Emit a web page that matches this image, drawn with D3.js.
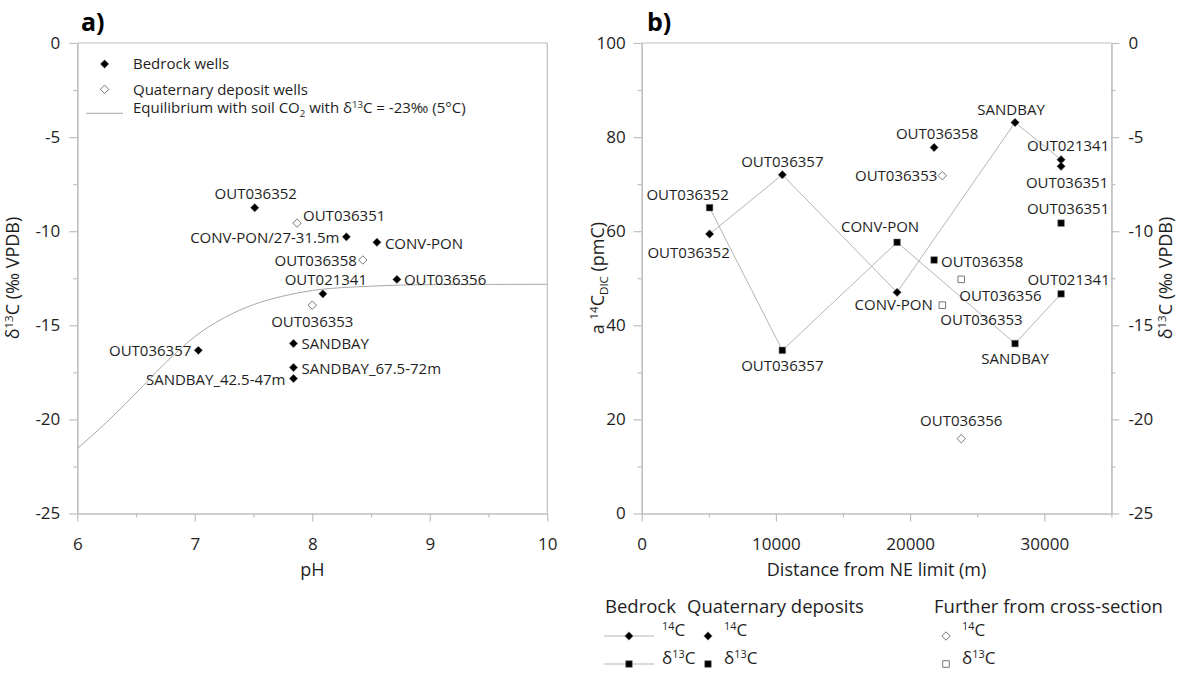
<!DOCTYPE html>
<html>
<head>
<meta charset="utf-8">
<script src="https://cdn.jsdelivr.net/npm/d3@7"></script>
<style>
  body { margin: 0; background: #fff; }
  svg { display: block; }
</style>
</head>
<body>
<svg id="chart" width="1190" height="677"></svg>
<script>
// ---------------- Panel a: pH vs δ13C of DIC ----------------
const wellsA = ["OUT036352", "OUT036351", "CONV-PON/27-31.5m", "CONV-PON", "OUT036358", "OUT036356",
                "OUT021341", "OUT036353", "OUT036357", "SANDBAY", "SANDBAY_67.5-72m", "SANDBAY_42.5-47m"];
const phA    = [7.51, 7.87, 8.29, 8.55, 8.43, 8.72, 8.09, 8.00, 7.03, 7.84, 7.84, 7.84];
const d13cA  = [-8.75, -9.57, -10.30, -10.59, -11.53, -12.56, -13.33, -13.93, -16.33, -15.97, -17.24, -17.83];
const kindA  = ["bedrock", "quaternary", "bedrock", "bedrock", "quaternary", "bedrock",
                "bedrock", "quaternary", "bedrock", "bedrock", "bedrock", "bedrock"];

// equilibrium curve with soil CO2 (δ13C = -23‰, 5°C)
const eqPH   = [6.0, 6.25, 6.5, 6.75, 7.0, 7.25, 7.5, 7.75, 8.0, 8.5, 9.0, 10.0];
const eqD13C = [-21.55, -20.15, -18.6, -17.0, -15.6, -14.6, -13.9, -13.45, -13.15, -12.92, -12.84, -12.82];

const phTicks   = [6, 7, 8, 9, 10];
const d13cTicks = [-25, -20, -15, -10, -5, 0];

// ---------------- Panel b: 14C and δ13C along the cross-section ----------------
const bedrockWells = ["OUT036352", "OUT036357", "CONV-PON", "SANDBAY", "OUT021341"];
const bedrockDist  = [5060, 10480, 19030, 27820, 31250];
const bedrockC14   = [59.4, 72.0, 47.0, 83.1, 75.2];
const bedrockD13C  = [-8.75, -16.33, -10.59, -15.97, -13.33];

const quatWells = ["OUT036358", "OUT036351"];
const quatDist  = [21790, 31250];
const quatC14   = [77.8, 73.8];
const quatD13C  = [-11.53, -9.57];

const furtherWells = ["OUT036353", "OUT036356"];
const furtherDist  = [22400, 23810];
const furtherC14   = [71.8, 15.9];
const furtherD13C  = [-13.93, -12.56];

const distTicks = [0, 10000, 20000, 30000];
const c14Ticks  = [0, 20, 40, 60, 80, 100];

// ---------------- layout ----------------
const FONT = "'Open Sans', 'Noto Sans', sans-serif";
const TXT = "#1e1e1e";
const AXC = "#bfbfbf";
const A = { l: 77.3, r: 547.3, t: 43, b: 513.5 };
const B = { l: 641.7, r: 1111.4, t: 43, b: 513.5 };

const svg = d3.select("#chart").attr("font-family", FONT);

const xA = d3.scaleLinear().domain([6, 10]).range([A.l, A.r]);
const yA = d3.scaleLinear().domain([-25, 0]).range([A.b, A.t]);
const xB = d3.scaleLinear().domain([0, 35000]).range([B.l, B.r]);
const yB = d3.scaleLinear().domain([0, 100]).range([B.b, B.t]);
const yB2 = d3.scaleLinear().domain([-25, 0]).range([B.b, B.t]);

// text with superscript / subscript runs
function rich(sel, parts, size) {
  let cur = 0;
  parts.forEach(p => {
    const target = p.sup ? -0.36 * size : p.sub ? 0.22 * size : 0;
    sel.append("tspan")
      .attr("dy", target - cur)
      .attr("font-size", (p.sup || p.sub) ? size * 0.64 : size)
      .text(p.t);
    cur = target;
  });
  return sel;
}

function styleAxis(g, showText) {
  g.attr("font-family", FONT).attr("font-size", 17);
  g.select(".domain").attr("stroke", AXC).attr("stroke-width", 1.2);
  g.selectAll(".tick line").attr("stroke", AXC).attr("stroke-width", 1.2);
  g.selectAll(".tick text").attr("fill", TXT);
  if (!showText) g.selectAll(".tick text").remove();
}
const fmt = d => String(d);

// diamond / square marker paths
const diamond = r => `M0,${-r}L${r},0L0,${r}L${-r},0Z`;
const square = s => `M${-s},${-s}H${s}V${s}H${-s}Z`;

function drawMarker(g, x, y, shape, filled) {
  const p = g.append("path")
    .attr("transform", `translate(${x},${y})`)
    .attr("d", shape === "d" ? diamond(4.2) : square(3.3));
  if (filled) p.attr("fill", "#000").attr("stroke", "#777").attr("stroke-width", 0.5);
  else p.attr("fill", "#fff").attr("stroke", "#777").attr("stroke-width", 1);
  return p;
}

function label(g, x, y, text, anchor, dx, dy, size) {
  g.append("text")
    .attr("x", x + dx).attr("y", y + dy)
    .attr("dy", "0.36em")
    .attr("text-anchor", anchor)
    .attr("font-size", size || 15)
    .attr("fill", TXT)
    .text(text);
}

// ================= Panel a =================
const ga = svg.append("g");

// frame
ga.append("path").attr("d", `M${A.l},${A.t}H${A.r}V${A.b}`).attr("fill", "none").attr("stroke", AXC).attr("stroke-width", 1.2);

// minor ticks
ga.append("g").attr("transform", `translate(0,${A.b})`)
  .call(d3.axisBottom(xA).tickValues([6.5, 7.5, 8.5, 9.5]).tickSize(4).tickSizeOuter(0))
  .call(g => styleAxis(g, false));
ga.append("g").attr("transform", `translate(${A.l},0)`)
  .call(d3.axisLeft(yA).tickValues([-22.5, -17.5, -12.5, -7.5, -2.5]).tickSize(4).tickSizeOuter(0))
  .call(g => styleAxis(g, false));
// major axes
ga.append("g").attr("transform", `translate(0,${A.b})`)
  .call(d3.axisBottom(xA).tickValues(phTicks).tickFormat(fmt).tickSize(8).tickPadding(16).tickSizeOuter(0))
  .call(g => styleAxis(g, true));
ga.append("g").attr("transform", `translate(${A.l},0)`)
  .call(d3.axisLeft(yA).tickValues(d13cTicks).tickFormat(fmt).tickSize(8).tickPadding(9).tickSizeOuter(0))
  .call(g => styleAxis(g, true));

// equilibrium curve
const eqLine = d3.line().x(d => xA(d[0])).y(d => yA(d[1])).curve(d3.curveMonotoneX);
ga.append("path").datum(eqPH.map((p, i) => [p, eqD13C[i]]))
  .attr("d", eqLine).attr("fill", "none").attr("stroke", "#a8a8a8").attr("stroke-width", 1);

// label placement for each well: [anchor, dx, dy]
const placeA = [
  ["middle", 1, -14], ["start", 6, -7.7], ["end", -7, 1], ["start", 8, 1],
  ["end", -6, 1], ["start", 7, 0], ["middle", 3, -14.7], ["middle", 0, 16],
  ["end", -7, 0], ["start", 8, 0], ["start", 8, 1], ["end", -8, 1]
];
wellsA.forEach((w, i) => {
  const x = xA(phA[i]), y = yA(d13cA[i]);
  drawMarker(ga, x, y, "d", kindA[i] === "bedrock");
  const [an, dx, dy] = placeA[i];
  label(ga, x, y, w, an, dx, dy, 15);
});

// axis titles
ga.append("text").attr("x", xA(8)).attr("y", 570).attr("dy", "0.36em")
  .attr("text-anchor", "middle").attr("font-size", 18).attr("fill", TXT).text("pH");
rich(ga.append("text").attr("transform", "translate(19,278) rotate(-90)")
  .attr("text-anchor", "middle").attr("dy", "0.36em").attr("fill", TXT),
  [{ t: "δ" }, { t: "13", sup: true }, { t: "C (‰ VPDB)" }], 18);

// panel letter
ga.append("text").attr("x", 81).attr("y", 31).attr("font-size", 25).attr("font-weight", "bold")
  .attr("fill", "#000").text("a)");

// legend
const legA = ga.append("g");
drawMarker(legA, 104.6, 64, "d", true);
label(legA, 133, 64, "Bedrock wells", "start", 0, 0, 15);
drawMarker(legA, 104.6, 89.3, "d", false);
label(legA, 133, 89.3, "Quaternary deposit wells", "start", 0, 0, 15);
legA.append("line").attr("x1", 86).attr("x2", 123).attr("y1", 113.3).attr("y2", 113.3)
  .attr("stroke", "#a8a8a8").attr("stroke-width", 1);
rich(legA.append("text").attr("x", 133).attr("y", 113.3).attr("dy", "0.36em").attr("fill", TXT),
  [{ t: "Equilibrium with soil CO" }, { t: "2", sub: true }, { t: " with δ" }, { t: "13", sup: true },
   { t: "C = -23‰ (5°C)" }], 15);

// ================= Panel b =================
const gb = svg.append("g");
gb.append("line").attr("x1", B.l).attr("x2", B.r).attr("y1", B.t).attr("y2", B.t)
  .attr("stroke", AXC).attr("stroke-width", 1.2);

// minor ticks
gb.append("g").attr("transform", `translate(0,${B.b})`)
  .call(d3.axisBottom(xB).tickValues([5000, 15000, 25000, 35000]).tickSize(4).tickSizeOuter(0))
  .call(g => styleAxis(g, false));
gb.append("g").attr("transform", `translate(${B.l},0)`)
  .call(d3.axisLeft(yB).tickValues([10, 30, 50, 70, 90]).tickSize(4).tickSizeOuter(0))
  .call(g => styleAxis(g, false));
gb.append("g").attr("transform", `translate(${B.r},0)`)
  .call(d3.axisRight(yB2).tickValues([-22.5, -17.5, -12.5, -7.5, -2.5]).tickSize(4).tickSizeOuter(0))
  .call(g => styleAxis(g, false));
// major axes
gb.append("g").attr("transform", `translate(0,${B.b})`)
  .call(d3.axisBottom(xB).tickValues(distTicks).tickFormat(fmt).tickSize(8).tickPadding(16).tickSizeOuter(0))
  .call(g => styleAxis(g, true));
gb.append("g").attr("transform", `translate(${B.l},0)`)
  .call(d3.axisLeft(yB).tickValues(c14Ticks).tickFormat(fmt).tickSize(8).tickPadding(8).tickSizeOuter(0))
  .call(g => styleAxis(g, true));
gb.append("g").attr("transform", `translate(${B.r},0)`)
  .call(d3.axisRight(yB2).tickValues(d13cTicks).tickFormat(fmt).tickSize(8).tickPadding(9).tickSizeOuter(0))
  .call(g => styleAxis(g, true));

// bedrock profile lines
const lineC14 = d3.line().x((d, i) => xB(bedrockDist[i])).y(d => yB(d));
const lineD13 = d3.line().x((d, i) => xB(bedrockDist[i])).y(d => yB2(d));
gb.append("path").datum(bedrockC14).attr("d", lineC14).attr("fill", "none").attr("stroke", "#b5b5b5").attr("stroke-width", 1);
gb.append("path").datum(bedrockD13C).attr("d", lineD13).attr("fill", "none").attr("stroke", "#b5b5b5").attr("stroke-width", 1);

// label placement: [anchor, dx, dy]
const placeBedC14 = [["middle", -21, 18.4], ["middle", 0, -13], ["middle", -3.4, 12.6], ["middle", -4, -13.4], ["middle", 7, -14.3]];
const placeBedD13 = [["middle", -22, -13.3], ["middle", 0, 15], ["middle", -17, -16], ["middle", 0, 15], ["middle", 7.5, -14.3]];
const placeQuatC14 = [["middle", 3, -13.4], ["middle", 6, 16.6]];
const placeQuatD13 = [["start", 7, 1.7], ["middle", 7, -14.7]];
const placeFurC14 = [["end", -5, 0], ["middle", 0, -17.6]];
const placeFurD13 = [["start", -2, 14], ["start", -2, 16]];

function series(wells, dist, vals, scale, shape, filled, place) {
  wells.forEach((w, i) => {
    const x = xB(dist[i]), y = scale(vals[i]);
    drawMarker(gb, x, y, shape, filled);
    const [an, dx, dy] = place[i];
    label(gb, x, y, w, an, dx, dy, 15);
  });
}
series(bedrockWells, bedrockDist, bedrockC14, yB, "d", true, placeBedC14);
series(bedrockWells, bedrockDist, bedrockD13C, yB2, "s", true, placeBedD13);
series(quatWells, quatDist, quatC14, yB, "d", true, placeQuatC14);
series(quatWells, quatDist, quatD13C, yB2, "s", true, placeQuatD13);
series(furtherWells, furtherDist, furtherC14, yB, "d", false, placeFurC14);
series(furtherWells, furtherDist, furtherD13C, yB2, "s", false, placeFurD13);

// axis titles
gb.append("text").attr("x", (B.l + B.r) / 2).attr("y", 570).attr("dy", "0.36em")
  .attr("text-anchor", "middle").attr("font-size", 18).attr("fill", TXT).text("Distance from NE limit (m)");
rich(gb.append("text").attr("transform", "translate(604,278) rotate(-90)")
  .attr("text-anchor", "middle").attr("dy", "0.36em").attr("fill", TXT),
  [{ t: "a " }, { t: "14", sup: true }, { t: "C" }, { t: "DIC", sub: true }, { t: " (pmC)" }], 18);
rich(gb.append("text").attr("transform", "translate(1172,278) rotate(-90)")
  .attr("text-anchor", "middle").attr("dy", "0.36em").attr("fill", TXT),
  [{ t: "δ" }, { t: "13", sup: true }, { t: "C (‰ VPDB)" }], 18);

gb.append("text").attr("x", 647).attr("y", 31).attr("font-size", 25).attr("font-weight", "bold")
  .attr("fill", "#000").text("b)");

// legend below panel b
const legB = gb.append("g");
const headY = 606, row1 = 636, row2 = 664;
label(legB, 605, headY, "Bedrock", "start", 0, 0, 18.5);
label(legB, 687, headY, "Quaternary deposits", "start", 0, 0, 18.5);
label(legB, 934, headY, "Further from cross-section", "start", 0, 0, 18.5);

const legRows = [[row1, "d", [{ t: "14", sup: true }, { t: "C" }]],
                 [row2, "s", [{ t: "δ" }, { t: "13", sup: true }, { t: "C" }]]];
legRows.forEach(([ry, shape, txt]) => {
  legB.append("line").attr("x1", 604).attr("x2", 654).attr("y1", ry).attr("y2", ry)
    .attr("stroke", "#b5b5b5").attr("stroke-width", 1);
  drawMarker(legB, 629, ry, shape, true);
  rich(legB.append("text").attr("x", 662).attr("y", ry).attr("dy", "0.36em").attr("fill", TXT), txt, 17);
  drawMarker(legB, 708, ry, shape, true);
  rich(legB.append("text").attr("x", 724).attr("y", ry).attr("dy", "0.36em").attr("fill", TXT), txt, 17);
  drawMarker(legB, 946, ry, shape, false);
  rich(legB.append("text").attr("x", 962).attr("y", ry).attr("dy", "0.36em").attr("fill", TXT), txt, 17);
});
</script>
</body>
</html>
